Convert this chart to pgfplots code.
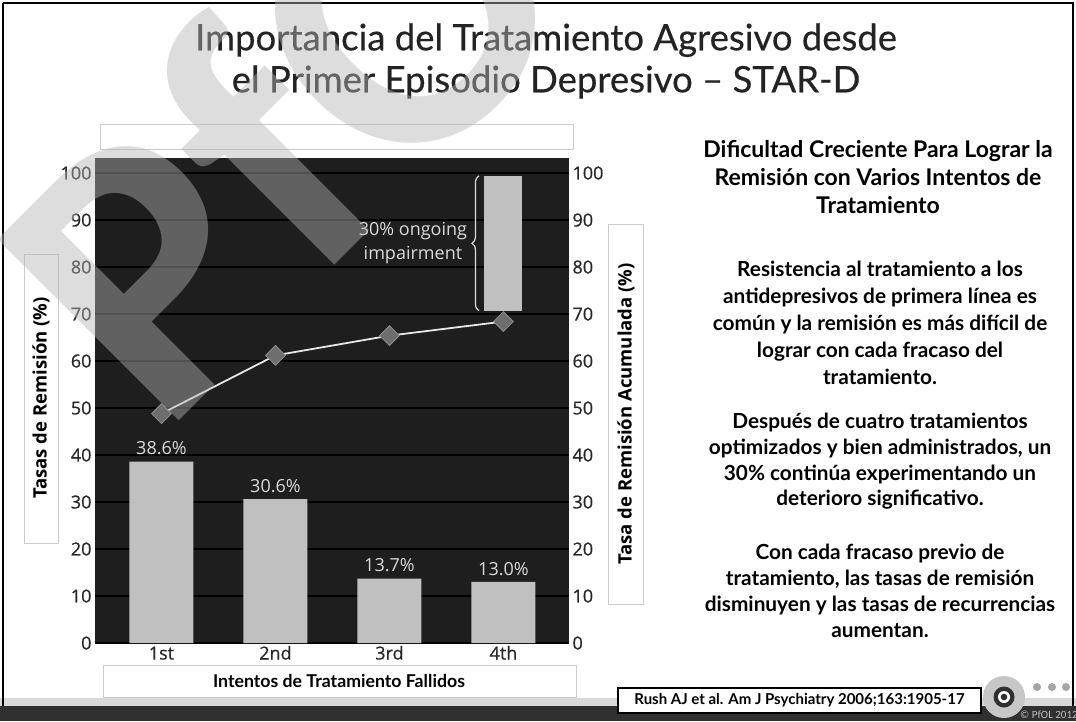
\documentclass[border=0pt]{standalone}
\usepackage{fontspec}
\usepackage{pgfplots}
\pgfplotsset{compat=1.18}
\usetikzlibrary{decorations.pathreplacing}
\newfontfamily\carl{Carlito}
\newfontfamily\lato{Lato}
\newfontfamily\latot{Lato}[FakeBold=0.4]
\newfontfamily\osans{Open Sans}
\newfontfamily\osansm{Open Sans}[FakeBold=0.6]
\definecolor{chartbg}{RGB}{30,30,30}
\definecolor{barfill}{RGB}{192,192,192}
\definecolor{tickgray}{RGB}{40,40,40}
\definecolor{labelgray}{RGB}{218,218,218}
\definecolor{linegray}{RGB}{230,230,230}
\definecolor{diamondfill}{RGB}{110,110,110}
\definecolor{diamondedge}{RGB}{140,140,140}
\definecolor{boxgray}{RGB}{204,204,204}
\definecolor{titlegray}{RGB}{35,35,35}
\definecolor{wmgray}{RGB}{180,180,180}
\definecolor{footdark}{RGB}{48,48,48}

\pgfplotsset{
  chartbase/.style={
    at={(95pt,-643pt)}, anchor=south west,
    scale only axis, width=474pt, height=485pt,
    xmin=-0.583, xmax=3.575, ymin=0, ymax=103.2,
    axis line style={draw=none}, major tick length=0pt,
    ytick={0,10,...,100},
    /pgf/number format/assume math mode=true,
    tick label style={font=\osansm\fontsize{18}{20}\selectfont, text=tickgray},
  },
}

\begin{document}
\begin{tikzpicture}
\begin{scope}[x=1pt,y=-1pt]
  \useasboundingbox (0,0) rectangle (1076,721);
  \fill[white] (0,0) rectangle (1076,721);
  % footer
  \fill[black!15] (0,698) rectangle (1076,706);
  \fill[footdark] (0,706) rectangle (1076,721);
  \draw[black, line width=2pt] (3,3) -- (3,706) (3,3) -- (1073,3) -- (1073,706);
  % title
  \node[align=center, text=titlegray, font=\latot\fontsize{36.5}{42}\selectfont] at (546,61)
    {Importancia del Tratamiento Agresivo desde\\el Primer Episodio Depresivo – STAR-D};
  % empty boxes and axis titles
  \draw[boxgray, line width=0.8pt, fill=white] (100,124) rectangle (573,149);
  \draw[boxgray, line width=0.8pt, fill=white] (24,254) rectangle (58,543);
  \node[rotate=90, font=\osans\bfseries\fontsize{18.5}{20}\selectfont] at (41,398) {Tasas de Remisión (\%)};
  \draw[boxgray, line width=0.8pt, fill=white] (608,224) rectangle (643,604);
  \node[rotate=90, font=\osans\bfseries\fontsize{18.5}{20}\selectfont] at (626,414) {Tasa de Remisión Acumulada (\%)};
  \draw[boxgray, line width=0.8pt, fill=white] (103,665) rectangle (576,697);
  \node[font=\lato\bfseries\fontsize{17.7}{19}\selectfont] at (339,681) {Intentos de Tratamiento Fallidos};
  % right-hand text
  \node[align=center, font=\lato\bfseries\fontsize{23}{28}\selectfont] at (878,177)
    {Dificultad Creciente Para Lograr la\\Remisión con Varios Intentos de\\Tratamiento};
  \node[align=center, font=\lato\bfseries\fontsize{20.8}{27}\selectfont] at (880,323)
    {Resistencia al tratamiento a los\\antidepresivos de primera línea es\\común y la remisión es más difícil de\\lograr con cada fracaso del\\tratamiento.};
  \node[align=center, font=\lato\bfseries\fontsize{20.8}{25.7}\selectfont] at (880,461.5)
    {Después de cuatro tratamientos\\optimizados y bien administrados, un\\30\% continúa experimentando un\\deterioro significativo.};
  \node[align=center, font=\lato\bfseries\fontsize{20.8}{26}\selectfont] at (880,591)
    {Con cada fracaso previo de\\tratamiento, las tasas de remisión\\disminuyen y las tasas de recurrencias\\aumentan.};
  % citation and logo
  \draw[black, line width=1.2pt, fill=white] (618,688) rectangle (981,713);
  \node[font=\lato\bfseries\fontsize{15}{17}\selectfont] at (799.5,700.5) {Rush AJ et al. Am J Psychiatry 2006;163:1905-17};
  \fill[black!22] (1004,697) circle (21);
  \fill[footdark] (1004,697) circle (10.5);
  \fill[white] (1004,697) circle (6);
  \fill[footdark] (1004,697) circle (3.3);
  \foreach \cx in {1037,1052,1066} \fill[black!35] (\cx,687) circle (4);
  \node[anchor=west, text=black!25, font=\carl\fontsize{11}{12}\selectfont, inner sep=0] at (1020,715) {© PfOL 2012};
\end{scope}

% left axis with bars and cumulative line
\begin{axis}[chartbase,
  axis background/.style={fill=chartbg},
  ymajorgrids, grid style={line width=1.6pt, color=black},
  xtick={0,1,2,3}, xticklabels={1st,2nd,3rd,4th},
  xticklabel style={text height=13pt, text depth=4pt},
]
\addplot[ybar, bar width=64pt, bar shift=0pt, fill=barfill, draw=none,
  nodes near coords={\pgfmathprintnumber[fixed,fixed zerofill,precision=1]{\pgfplotspointmeta}\%},
  nodes near coords style={font=\osans\fontsize{18}{20}\selectfont, text=labelgray, yshift=3pt},
  point meta=explicit symbolic]
  coordinates {(0,38.6)[38.6] (1,30.6)[30.6] (2,13.7)[13.7] (3,13.0)[13.0]};
% 30% ongoing impairment segment above the 4th attempt
\addplot[fill=barfill, draw=none] coordinates {(2.829,70.7)(3.162,70.7)(3.162,99.4)(2.829,99.4)} -- cycle;
\draw[decorate, decoration={brace, amplitude=7pt}, draw=labelgray, line width=1.2pt]
  (axis cs:2.785,70.7) -- (axis cs:2.785,99.4);
\node[align=center, text=labelgray, font=\osans\fontsize{18}{24}\selectfont] at (axis cs:2.206,85.2)
  {30\% ongoing\\impairment};
\addplot[color=linegray, line width=1.8pt, mark=square*, mark size=7pt,
  mark options={rotate=45, fill=diamondfill, draw=diamondedge, line width=0.8pt}]
  coordinates {(0,48.8) (1,61.2) (2,65.4) (3,68.4)};
\end{axis}

% right axis: cumulative remission scale
\begin{axis}[chartbase, axis y line*=right, axis x line=none]
\addplot[draw=none] coordinates {(0,0)};
\end{axis}

% watermark
\begin{scope}[x=1pt,y=-1pt]
  \clip (0,0) rectangle (1076,721);
  \node[rotate=45, anchor=base west, inner sep=0, text=wmgray, text opacity=0.45,
    font=\carl\bfseries\fontsize{395}{395}\selectfont] at (163,437) {PfO};
\end{scope}
\end{tikzpicture}
\end{document}
